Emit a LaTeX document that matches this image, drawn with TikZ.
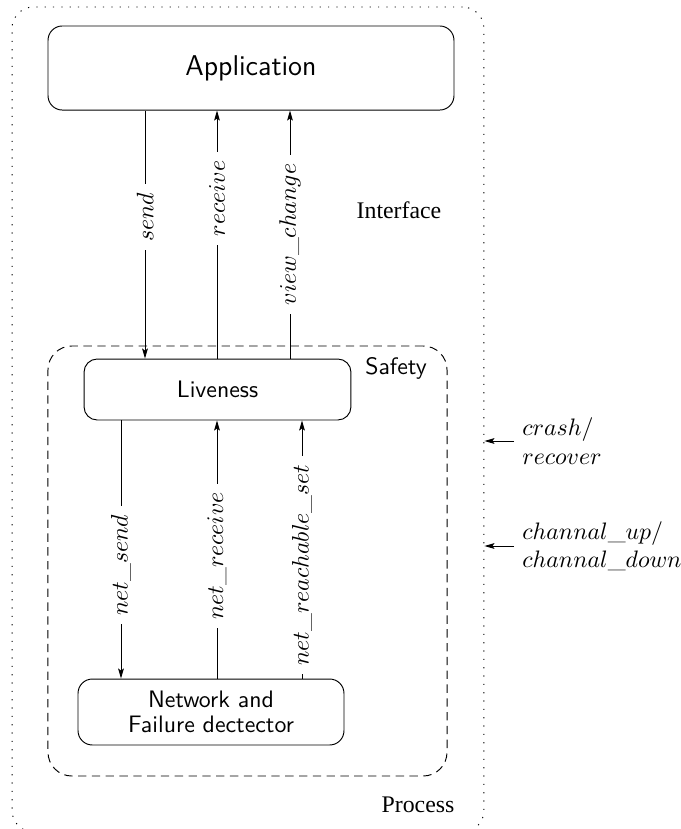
\documentclass[tikz,border=0pt]{standalone}
\usepackage{fontspec}
\newfontfamily\timesfont{Liberation Serif}
\usetikzlibrary{arrows.meta}
\tikzset{
	layerbox/.style={draw, rounded corners=6pt, font=\sffamily, align=center},
	callarrow/.style={-{Stealth[length=4.2pt,width=2.4pt,inset=0.8pt]}},
	calllabel/.style={rotate=90, fill=white, inner xsep=3.5pt, inner ysep=1pt}
}

\begin{document}
\begin{tikzpicture}[x=0.42pt, y=-0.42pt]
			%%%%% START %%%%%
			\useasboundingbox (0, 0) rectangle (681, 829);
			
			\node[draw, dash pattern=on 0.5pt off 3pt, rounded corners=9pt, minimum width=198.2pt, minimum height=346.5pt] (proc) at (248, 419.5) {};
			\node[draw, dash pattern=on 3.5pt off 2.3pt, rounded corners=10pt, minimum width=167.6pt, minimum height=180.6pt] (safety) at (247.5, 561) {};
			
			\node[layerbox, font=\large\sffamily, minimum width=170.5pt, minimum height=35.3pt] (app) at (251, 68) {Application};
			\node[layerbox, rounded corners=5.5pt, minimum width=112.1pt, minimum height=25.6pt] (live) at (217.5, 389.5) {Liveness};
			\node[layerbox, minimum width=111.7pt, minimum height=27.7pt] (net) at (211, 712) {Network and\\[-1.5pt]Failure dectector};
			
			\node[font=\timesfont] (iface) at (399, 210) {Interface};
			\node[font=\sffamily] (safelabel) at (396, 368) {Safety};
			\node[font=\timesfont] (proclabel) at (418, 805) {Process};
			
			% interface calls
			\coordinate (sendx) at (145, 0);
			\coordinate (recvx) at (217, 0);
			\coordinate (viewx) at (290, 0);
			\draw[callarrow] (app.south -| sendx) -- node[calllabel, pos=0.43] {$send$} (live.north -| sendx);
			\draw[callarrow] (live.north -| recvx) -- node[calllabel, pos=0.645] {$receive$} (app.south -| recvx);
			\draw[callarrow] (live.north -| viewx) -- node[calllabel, pos=0.5] {$view\_change$} (app.south -| viewx);
			
			% network calls
			\coordinate (nsendx) at (121, 0);
			\coordinate (nrecvx) at (217, 0);
			\coordinate (nreachx) at (302, 0);
			\draw[callarrow] (live.south -| nsendx) -- node[calllabel, pos=0.56] {$net\_send$} (net.north -| nsendx);
			\draw[callarrow] (net.north -| nrecvx) -- node[calllabel, pos=0.475] {$net\_receive$} (live.south -| nrecvx);
			\draw[callarrow] (net.north -| nreachx) -- node[calllabel, pos=0.44] {$net\_reachable\_set$} (live.south -| nreachx);
			
			% events from outside
			\node[anchor=west, align=left] (crash) at (514, 441) {$crash/$\\$recover$};
			\node[anchor=west, align=left] (chan) at (514, 546) {$channal\_up/$\\$channal\_down$};
			\draw[callarrow] (crash.west) -- (crash.west -| proc.east);
			\draw[callarrow] (chan.west) -- (chan.west -| proc.east);
			%%%%% END %%%%%
		\end{tikzpicture}
\end{document}
